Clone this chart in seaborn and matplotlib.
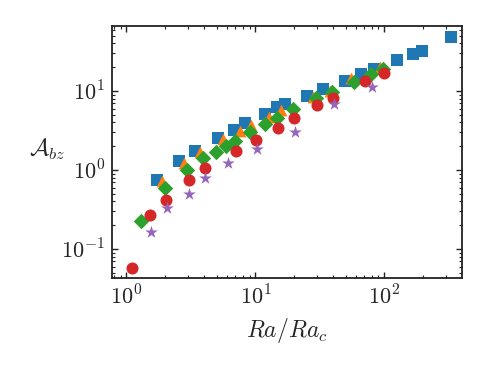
import numpy as np
import pandas as pd
import matplotlib
matplotlib.use("Agg")
import matplotlib.pyplot as plt
import seaborn as sns
from matplotlib.ticker import LogLocator, NullFormatter, FuncFormatter

# ---- data ----
blue_x = [1.72, 2.55, 3.40, 5.13, 6.82, 8.30, 11.9, 14.7, 17.0, 25.1, 33.5, 49.6, 65.9, 83.2, 125.5, 167, 196, 329]
blue_y = [0.747, 1.30, 1.74, 2.54, 3.21, 3.94, 5.12, 6.27, 6.84, 8.64, 10.6, 13.4, 16.4, 19.0, 24.7, 29.4, 32.1, 48.3]

orange_x = [1.88, 2.78, 3.70, 5.60, 7.60, 9.25, 12.7, 15.8, 28.0, 38.0, 55.0, 93.0]
orange_y = [0.72, 1.21, 1.67, 2.44, 3.09, 3.67, 4.64, 5.69, 8.30, 9.90, 14.5, 19.9]

green_x = [1.30, 1.99, 2.94, 3.92, 4.94, 5.91, 6.95, 9.0, 11.9, 14.7, 19.6, 29.5, 39.3, 58.2, 78.9, 97.7]
green_y = [0.226, 0.592, 1.00, 1.42, 1.69, 2.01, 2.33, 3.0, 3.82, 4.55, 5.92, 8.15, 9.71, 13.0, 16.4, 19.0]

red_x = [1.10, 1.52, 2.02, 3.05, 4.06, 7.07, 10.1, 15.0, 19.9, 30.1, 40.0, 70.8, 99.5]
red_y = [0.0575, 0.269, 0.417, 0.747, 1.06, 1.74, 2.40, 3.40, 4.55, 6.65, 8.15, 13.4, 16.9]

purple_x = [1.55, 2.06, 3.05, 4.06, 6.13, 10.3, 20.3, 40.7, 80.3]
purple_y = [0.164, 0.330, 0.497, 0.792, 1.23, 1.84, 3.03, 6.84, 11.2]

series = [
    (blue_x, blue_y, "#1f77b4", "s", 72),
    (orange_x, orange_y, "#ff7f0e", "^", 72),
    (green_x, green_y, "#2ca02c", "D", 62),
    (red_x, red_y, "#d62728", "o", 75),
    (purple_x, purple_y, "#9467bd", "*", 90),
]

sns.set_style("ticks")
plt.rcParams["mathtext.fontset"] = "cm"
plt.rcParams["font.family"] = ["DejaVu Serif"]

fig = plt.figure(figsize=(4.88, 3.66), dpi=100)
ax = fig.add_axes([0.2295, 0.2396, 0.7166, 0.6902])

for i, (xs, ys, col, mk, s) in enumerate(series):
    df = pd.DataFrame({"x": xs, "y": ys})
    sns.scatterplot(data=df, x="x", y="y", ax=ax, color=col, marker=mk, s=s,
                    linewidth=0, zorder=3 + i)

ax.set_xscale("log")
ax.set_yscale("log")
ax.set_xlim(0.772, 398)
ax.set_ylim(0.0426, 67.1)

def pow_fmt(v, pos):
    return r"$10^{%d}$" % int(round(np.log10(v)))

ax.xaxis.set_major_locator(LogLocator(base=10, numticks=10))
ax.yaxis.set_major_locator(LogLocator(base=10, numticks=10))
ax.xaxis.set_major_formatter(FuncFormatter(pow_fmt))
ax.yaxis.set_major_formatter(FuncFormatter(pow_fmt))
ax.xaxis.set_minor_locator(LogLocator(base=10, subs=np.arange(2, 10), numticks=20))
ax.yaxis.set_minor_locator(LogLocator(base=10, subs=np.arange(2, 10), numticks=20))
ax.xaxis.set_minor_formatter(NullFormatter())
ax.yaxis.set_minor_formatter(NullFormatter())

ax.tick_params(which="both", direction="in", top=True, right=True, labelsize=16, color="#222222")
ax.tick_params(which="major", length=4, width=1.0, pad=5)
ax.tick_params(which="minor", length=2.5, width=0.8)
for sp in ax.spines.values():
    sp.set_linewidth(1.3)
    sp.set_color("#222222")

ax.set_xlabel(r"$Ra/Ra_c$", fontsize=17, labelpad=5)
ax.set_ylabel(r"$\mathcal{A}_{bz}$", fontsize=17, rotation=0, ha="center", va="center")
ax.yaxis.set_label_coords(-0.186, 0.51)

fig.savefig("out.png", dpi=100)
